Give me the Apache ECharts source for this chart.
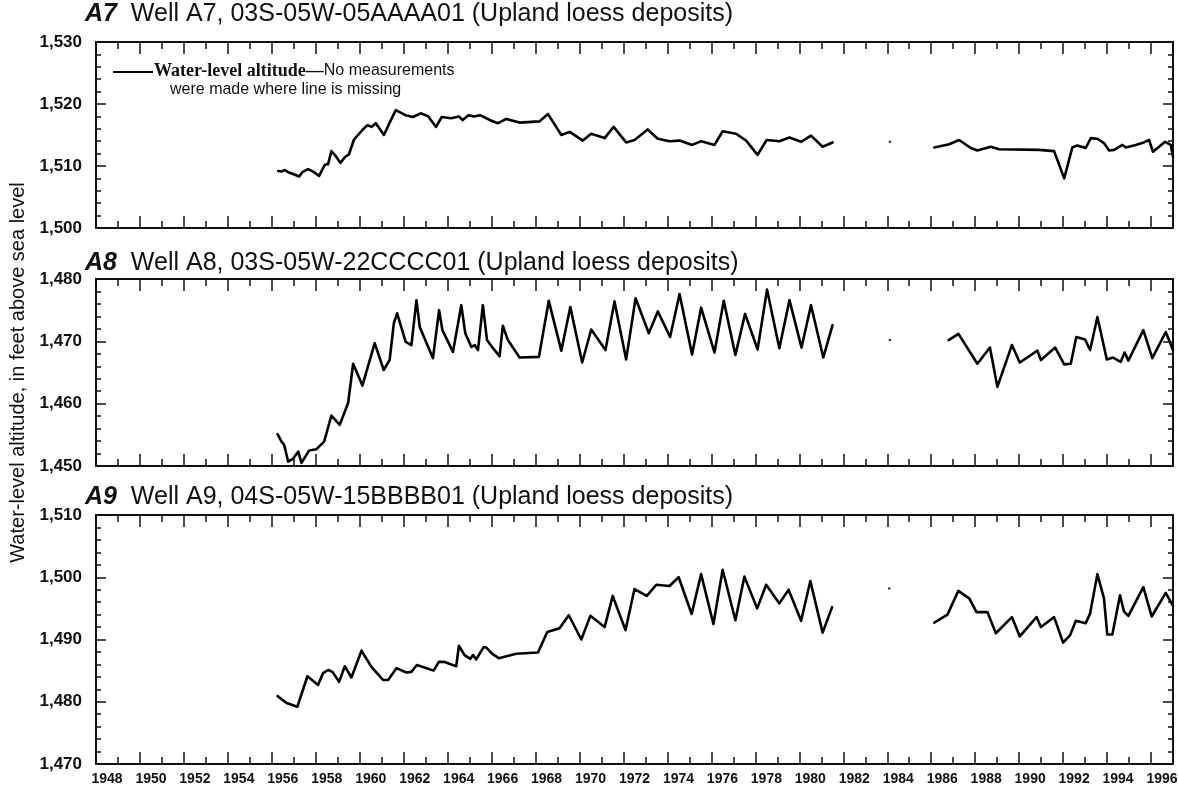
<!DOCTYPE html>
<html>
<head>
<meta charset="utf-8">
<title>Water-level altitude, wells A7-A9</title>
<script src="https://cdn.jsdelivr.net/npm/echarts@6/dist/echarts.min.js"></script>
<style>
  html, body { margin: 0; padding: 0; background: #fff; }
  #chart { width: 1178px; height: 789px; }
</style>
</head>
<body>
<div id="chart"></div>
<script>
// ---- Measured water levels: [decimal year, altitude in feet] ----
const a7Early = [[1956.29,1509.2],[1956.44,1509.1],[1956.59,1509.35],[1956.74,1509.0],[1956.97,1508.7],[1957.24,1508.3],[1957.39,1509.0],[1957.65,1509.5],[1957.88,1509.1],[1958.15,1508.4],[1958.41,1510.2],[1958.56,1510.3],[1958.71,1512.4],[1958.91,1511.6],[1959.12,1510.5],[1959.32,1511.4],[1959.51,1511.9],[1959.73,1514.2],[1959.92,1515.0],[1960.12,1515.8],[1960.35,1516.6],[1960.53,1516.3],[1960.73,1516.9],[1961.1,1515.0],[1961.36,1517.0],[1961.64,1519.0],[1962.08,1518.2],[1962.42,1517.9],[1962.77,1518.5],[1963.12,1518.0],[1963.47,1516.3],[1963.73,1517.9],[1964.16,1517.7],[1964.51,1518.0],[1964.68,1517.4],[1964.95,1518.2],[1965.2,1518.0],[1965.47,1518.2],[1965.99,1517.3],[1966.29,1516.9],[1966.67,1517.6],[1967.27,1517.0],[1968.18,1517.2],[1968.56,1518.4],[1969.17,1515.0],[1969.55,1515.5],[1970.15,1514.1],[1970.53,1515.2],[1971.14,1514.5],[1971.55,1516.3],[1972.12,1513.8],[1972.5,1514.2],[1973.1,1515.9],[1973.56,1514.4],[1974.09,1514.0],[1974.55,1514.1],[1975.12,1513.4],[1975.53,1514.0],[1976.14,1513.4],[1976.51,1515.6],[1977.12,1515.2],[1977.58,1514.1],[1978.1,1511.8],[1978.51,1514.2],[1979.09,1514.0],[1979.55,1514.6],[1980.08,1513.9],[1980.53,1514.9],[1981.06,1513.1],[1981.51,1513.8]];
const a7Single = [[1984.12,1513.9]];
const a7Late = [[1986.14,1513.0],[1986.82,1513.5],[1987.27,1514.2],[1987.8,1512.9],[1988.1,1512.5],[1988.71,1513.1],[1989.09,1512.7],[1990.91,1512.6],[1991.59,1512.4],[1992.05,1508.0],[1992.42,1513.0],[1992.65,1513.3],[1993.03,1512.9],[1993.26,1514.5],[1993.56,1514.4],[1993.86,1513.7],[1994.09,1512.5],[1994.32,1512.6],[1994.7,1513.4],[1994.85,1513.0],[1995.3,1513.4],[1995.6,1513.7],[1995.91,1514.2],[1996.09,1512.3],[1996.64,1513.9],[1996.9,1513.4],[1997.0,1511.5]];

const a8Early = [[1956.26,1455.1],[1956.44,1453.9],[1956.56,1453.4],[1956.74,1450.7],[1956.97,1451.2],[1957.2,1452.3],[1957.35,1450.5],[1957.7,1452.5],[1958.03,1452.7],[1958.38,1453.9],[1958.71,1458.1],[1959.09,1456.6],[1959.47,1460.1],[1959.7,1466.4],[1960.12,1462.9],[1960.68,1469.7],[1961.09,1465.4],[1961.36,1467.0],[1961.55,1472.9],[1961.7,1474.5],[1962.09,1469.9],[1962.35,1469.4],[1962.58,1476.6],[1962.73,1472.3],[1963.33,1467.3],[1963.61,1475.0],[1963.76,1471.8],[1964.24,1468.3],[1964.62,1475.8],[1964.8,1471.3],[1965.08,1469.1],[1965.23,1469.4],[1965.38,1468.6],[1965.6,1475.8],[1965.79,1470.2],[1966.06,1468.9],[1966.36,1467.6],[1966.51,1472.5],[1966.74,1470.2],[1967.27,1467.4],[1968.15,1467.5],[1968.6,1476.5],[1969.17,1468.5],[1969.58,1475.5],[1970.12,1466.6],[1970.53,1471.9],[1971.18,1468.6],[1971.59,1476.4],[1972.12,1467.1],[1972.55,1476.9],[1973.15,1471.3],[1973.56,1474.8],[1974.12,1470.7],[1974.55,1477.6],[1975.12,1467.9],[1975.53,1475.4],[1976.14,1468.2],[1976.56,1476.5],[1977.09,1467.8],[1977.53,1474.4],[1978.1,1468.7],[1978.53,1478.3],[1979.09,1468.9],[1979.55,1476.6],[1980.1,1469.0],[1980.53,1475.8],[1981.09,1467.4],[1981.51,1472.6]];
const a8Single = [[1984.12,1470.2]];
const a8Late = [[1986.79,1470.2],[1987.24,1471.2],[1988.1,1466.4],[1988.67,1469.0],[1989.01,1462.7],[1989.67,1469.4],[1990.03,1466.6],[1990.83,1468.5],[1990.99,1467.0],[1991.64,1469.0],[1992.05,1466.3],[1992.35,1466.4],[1992.6,1470.7],[1993.0,1470.3],[1993.23,1468.6],[1993.56,1473.9],[1993.99,1467.1],[1994.27,1467.4],[1994.62,1466.7],[1994.8,1468.2],[1994.97,1466.9],[1995.65,1471.8],[1996.06,1467.3],[1996.67,1471.5],[1997.0,1468.6]];

const a9Early = [[1956.26,1480.9],[1956.67,1479.8],[1957.16,1479.2],[1957.62,1484.1],[1958.1,1482.7],[1958.33,1484.6],[1958.56,1485.1],[1958.76,1484.8],[1959.06,1483.2],[1959.32,1485.7],[1959.62,1483.9],[1960.08,1488.2],[1960.53,1485.6],[1961.06,1483.5],[1961.29,1483.5],[1961.67,1485.4],[1962.12,1484.7],[1962.35,1484.8],[1962.6,1485.9],[1963.36,1485.0],[1963.6,1486.4],[1963.86,1486.4],[1964.39,1485.7],[1964.51,1489.0],[1964.77,1487.5],[1965.03,1486.9],[1965.15,1487.5],[1965.3,1486.8],[1965.45,1487.7],[1965.64,1488.8],[1965.76,1488.7],[1966.03,1487.7],[1966.33,1487.0],[1967.12,1487.7],[1968.11,1487.9],[1968.53,1491.2],[1969.09,1491.8],[1969.51,1493.9],[1970.08,1490.0],[1970.49,1493.8],[1971.14,1492.0],[1971.51,1497.0],[1972.09,1491.5],[1972.5,1498.1],[1973.06,1497.0],[1973.49,1498.8],[1974.09,1498.6],[1974.51,1500.0],[1975.1,1494.1],[1975.53,1500.5],[1976.09,1492.5],[1976.51,1501.2],[1977.09,1493.1],[1977.5,1500.1],[1978.08,1495.0],[1978.49,1498.8],[1979.09,1495.8],[1979.51,1498.0],[1980.08,1493.0],[1980.5,1499.4],[1981.06,1491.1],[1981.49,1495.2]];
const a9Single = [[1984.09,1498.2]];
const a9Late = [[1986.14,1492.7],[1986.74,1494.0],[1987.23,1497.8],[1987.73,1496.6],[1988.06,1494.4],[1988.56,1494.4],[1988.94,1491.0],[1989.67,1493.6],[1990.03,1490.5],[1990.79,1493.6],[1990.99,1492.0],[1991.59,1493.6],[1992.0,1489.5],[1992.32,1490.7],[1992.58,1493.0],[1993.03,1492.6],[1993.23,1494.2],[1993.56,1500.5],[1993.86,1496.6],[1994.01,1490.8],[1994.24,1490.8],[1994.59,1497.1],[1994.77,1494.5],[1994.97,1493.8],[1995.65,1498.4],[1996.03,1493.7],[1996.67,1497.5],[1997.0,1495.4]];

// ---- Panel headings and axis ranges ----
const panelTags = ['A7', 'A8', 'A9'];
const panelTitles = [
  'Well A7, 03S-05W-05AAAA01 (Upland loess deposits)',
  'Well A8, 03S-05W-22CCCC01 (Upland loess deposits)',
  'Well A9, 04S-05W-15BBBB01 (Upland loess deposits)'
];
const yRanges = [[1500, 1530], [1450, 1480], [1470, 1510]];
const yearRange = [1948, 1997];
const yAxisTitle = 'Water-level altitude, in feet above sea level';
const legendKey = 'Water-level altitude\u2014';
const legendNote1 = 'No measurements';
const legendNote2 = 'were made where line is missing';

const panelData = [
  [a7Early, a7Single, a7Late],
  [a8Early, a8Single, a8Late],
  [a9Early, a9Single, a9Late]
];

// ---- Layout ----
const plotLeft = 96, plotWidth = 1077;
const gridBoxes = [
  { top: 42, height: 186 },
  { top: 279, height: 187 },
  { top: 515, height: 249 }
];
const titleTops = [2, 251, 485];
const ink = '#111';
const sansFont = '"Liberation Sans", Arial, Helvetica, sans-serif';

const chart = echarts.init(document.getElementById('chart'), null, { renderer: 'canvas' });

// Fixed plot boxes: keep ECharts from shrinking a grid to fit its labels.
const grids = gridBoxes.map(g => ({
  left: plotLeft, width: plotWidth, top: g.top, height: g.height,
  containLabel: false, outerBoundsMode: 'none'
}));

const xAxes = [];
const yAxes = [];
gridBoxes.forEach((g, i) => {
  ['bottom', 'top'].forEach(pos => {
    xAxes.push({
      type: 'value', gridIndex: i, position: pos,
      min: yearRange[0], max: yearRange[1], interval: 2,
      axisLine: { show: true, onZero: false, lineStyle: { color: ink, width: 2 } },
      axisTick: { show: true, inside: true, length: 12, lineStyle: { color: ink, width: 1.5 } },
      minorTick: { show: true, splitNumber: 2, length: 7, lineStyle: { color: ink, width: 1.5 } },
      axisLabel: { show: false },
      splitLine: { show: false }
    });
  });
  ['left', 'right'].forEach(pos => {
    yAxes.push({
      type: 'value', gridIndex: i, position: pos,
      min: yRanges[i][0], max: yRanges[i][1], interval: 10,
      axisLine: { show: true, onZero: false, lineStyle: { color: ink, width: 2 } },
      axisTick: { show: true, inside: true, length: 10, lineStyle: { color: ink, width: 1.5 } },
      minorTick: { show: true, splitNumber: 5, length: 5, lineStyle: { color: ink, width: 1.5 } },
      axisLabel: pos === 'left' ? {
        show: true, margin: 14, color: ink, fontSize: 17, fontWeight: 'bold', fontFamily: sansFont,
        formatter: v => v.toLocaleString('en-US')
      } : { show: false },
      splitLine: { show: false },
      name: (pos === 'left' && i === 1) ? yAxisTitle : '',
      nameLocation: 'middle', nameGap: 63,
      nameTextStyle: { color: ink, fontSize: 20, fontFamily: sansFont }
    });
  });
});

// Year labels sit midway across each labelled year: this axis runs half a year behind the data axis.
xAxes.push({
  type: 'value', gridIndex: 2, position: 'bottom',
  min: yearRange[0] - 0.5, max: yearRange[1] - 0.5, interval: 0.5,
  axisLine: { show: false }, axisTick: { show: false }, splitLine: { show: false },
  axisLabel: {
    show: true, margin: 8, color: ink, fontSize: 14, fontWeight: 'bold', fontFamily: sansFont,
    showMinLabel: true, showMaxLabel: true,
    formatter: v => (Number.isInteger(v) && v % 2 === 0) ? String(v) : ''
  }
});

const series = [];
panelData.forEach((parts, i) => {
  [parts[0], parts[2]].forEach(seg => {
    series.push({
      type: 'line', xAxisIndex: i * 2, yAxisIndex: i * 2, data: seg,
      showSymbol: false, smooth: false, clip: true,
      lineStyle: { color: '#000', width: 2.6, join: 'round', cap: 'round' },
      emphasis: { disabled: true }, animation: false
    });
  });
  series.push({
    type: 'scatter', xAxisIndex: i * 2, yAxisIndex: i * 2, data: parts[1],
    symbol: 'circle', symbolSize: 2.5, itemStyle: { color: '#000' }, animation: false
  });
});

const titles = panelTags.map((tag, i) => ({
  left: 85, top: titleTops[i], padding: 0,
  text: '{tag|' + tag + '}  ' + panelTitles[i],
  textStyle: {
    color: ink, fontSize: 25, fontWeight: 'normal', fontFamily: sansFont,
    rich: { tag: { fontSize: 25, fontStyle: 'italic', fontWeight: 'bold', fontFamily: sansFont, color: ink } }
  }
}));

const option = {
  backgroundColor: '#fff',
  animation: false,
  title: titles,
  grid: grids,
  xAxis: xAxes,
  yAxis: yAxes,
  series: series,
  graphic: [
    { type: 'line', shape: { x1: 113, y1: 72, x2: 153, y2: 72 }, style: { stroke: '#000', lineWidth: 2.2 } },
    {
      type: 'text', left: 154, top: 62,
      style: {
        text: '{key|' + legendKey + '}{note|' + legendNote1 + '}',
        rich: {
          key: { fontFamily: '"Liberation Serif", "Times New Roman", serif', fontWeight: 'bold', fontSize: 18, fill: ink },
          note: { fontFamily: sansFont, fontSize: 16, fill: ink }
        }
      }
    },
    {
      type: 'text', left: 170, top: 82,
      style: { text: legendNote2, fontFamily: sansFont, fontSize: 16, fill: ink }
    }
  ]
};

chart.setOption(option);
</script>
</body>
</html>
